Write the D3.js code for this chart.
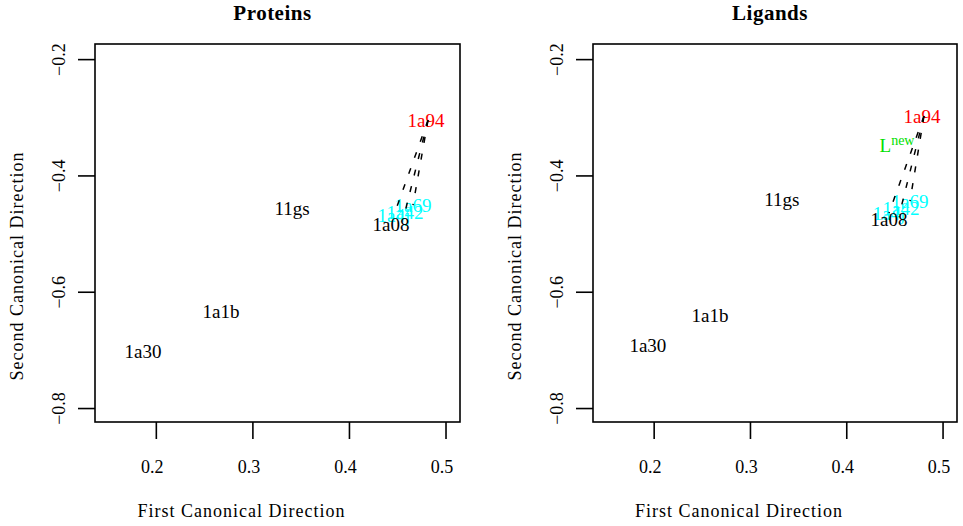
<!DOCTYPE html>
<html><head><meta charset="utf-8">
<script src="https://cdn.jsdelivr.net/npm/d3@7"></script>
<style>
body{margin:0;background:#fff;}
text{font-family:"Liberation Serif","Times New Roman",serif;}
</style></head>
<body><svg id="c" width="963" height="526"></svg>
<script>
// ---- data ----
const xTicks = [0.2, 0.3, 0.4, 0.5];
const yTicks = [-0.2, -0.4, -0.6, -0.8];
const xDomain = [0.137, 0.515];
const yDomain = [-0.824, -0.174];

const protLabels = ["1a30","1a1b","11gs","1a4j","1a42","1a69","1a08","1a94"];
const protX      = [0.1867,0.2675,0.341,0.4466,0.458,0.4663,0.4435,0.4798];
const protY      = [-0.702,-0.633,-0.456,-0.468,-0.463,-0.451,-0.4835,-0.305];
const protGroup  = ["other","other","other","near","near","near","other","query"];

const ligLabels = ["1a30","1a1b","11gs","1a4j","1a42","1a69","1a08","1a94","Lnew"];
const ligX      = [0.194,0.2585,0.333,0.4444,0.4568,0.4662,0.4444,0.4786,0.4527];
const ligY      = [-0.693,-0.640,-0.4406,-0.4646,-0.456,-0.444,-0.475,-0.298,-0.349];
const ligGroup  = ["other","other","other","near","near","near","other","query","new"];

const groupColor = d3.scaleOrdinal()
  .domain(["other","near","query","new"])
  .range(["#000000","#00FFFF","#FF0000","#00E000"]);

const svg = d3.select("#c");

function panel(left, right, title, labels, xs, ys, groups){
  const top = 44, bottom = 422;
  const x = d3.scaleLinear().domain(xDomain).range([left, right]);
  const y = d3.scaleLinear().domain(yDomain).range([bottom, top]);
  const g = svg.append("g");
  const data = labels.map((l,i)=>({label:l, x:xs[i], y:ys[i], group:groups[i]}));

  // box
  g.append("rect").attr("x",left).attr("y",top)
    .attr("width",right-left).attr("height",bottom-top)
    .attr("fill","none").attr("stroke","#000").attr("stroke-width",1.6);

  // x axis
  const xa = g.append("g").attr("transform",`translate(0,${bottom})`)
    .call(d3.axisBottom(x).tickValues(xTicks).tickSize(17).tickPadding(0).tickFormat(d3.format(".1f")));
  xa.select(".domain").remove();
  xa.selectAll(".tick line").attr("stroke","#000").attr("stroke-width",1.6);
  xa.selectAll(".tick text").attr("y",51).attr("dx","-4px").attr("dy",0)
    .attr("font-size",18).attr("fill","#000")
    .style("font-family","'Liberation Serif',serif");

  // y axis
  const ya = g.append("g").attr("transform",`translate(${left},0)`)
    .call(d3.axisLeft(y).tickValues(yTicks).tickSize(17).tickFormat(d=>d3.format(".1f")(d).replace("-","\u2212")));
  ya.select(".domain").remove();
  ya.selectAll(".tick line").attr("stroke","#000").attr("stroke-width",1.6);
  ya.selectAll(".tick text").attr("x",null).attr("dy",null)
    .attr("transform","translate(-36,0) rotate(-90)")
    .attr("text-anchor","middle").attr("dy","0.35em")
    .attr("font-size",18).attr("fill","#000")
    .style("font-family","'Liberation Serif',serif");

  const cx = (left+right)/2;
  // title
  g.append("text").attr("x",cx-5).attr("y",20).attr("text-anchor","middle")
    .attr("font-size",21).attr("font-weight","bold").attr("letter-spacing","0.5px").text(title);
  // x label
  g.append("text").attr("x",cx-36).attr("y",517).attr("text-anchor","middle")
    .attr("font-size",18).attr("letter-spacing","1px").text("First Canonical Direction");
  // y label
  g.append("text").attr("transform",`translate(${left-78},${(top+bottom)/2+33}) rotate(-90)`)
    .attr("text-anchor","middle").attr("dy","0.35em")
    .attr("font-size",18).attr("letter-spacing","1px").text("Second Canonical Direction");

  // labels: near first, then others on top
  const order = ["near","other","query","new"];
  const sorted = data.slice().sort((a,b)=>order.indexOf(a.group)-order.indexOf(b.group));
  const t = g.selectAll("text.lab").data(sorted).enter().append("text")
    .attr("class","lab")
    .attr("x",d=>x(d.x)).attr("y",d=>y(d.y)).attr("dy","0.35em")
    .attr("text-anchor","middle").attr("font-size",19)
    .attr("fill",d=>groupColor(d.group));
  t.each(function(d){
    const s = d3.select(this);
    if(d.label==="Lnew"){
      s.append("tspan").text("L");
      s.append("tspan").attr("font-size",14).attr("dy","-0.55em").text("new");
    } else s.text(d.label);
  });

  // dashed lines from query to near points
  const q = data.find(d=>d.group==="query");
  g.selectAll("line.lk").data(data.filter(d=>d.group==="near")).enter().append("line")
    .attr("x1",x(q.x)+2).attr("y1",y(q.y))
    .attr("x2",d=>x(d.x)).attr("y2",d=>y(d.y))
    .attr("stroke","#000").attr("stroke-width",1.5).attr("stroke-dasharray","6,11");
}

panel(95, 460, "Proteins", protLabels, protX, protY, protGroup);
panel(593, 957, "Ligands", ligLabels, ligX, ligY, ligGroup);
</script></body></html>
